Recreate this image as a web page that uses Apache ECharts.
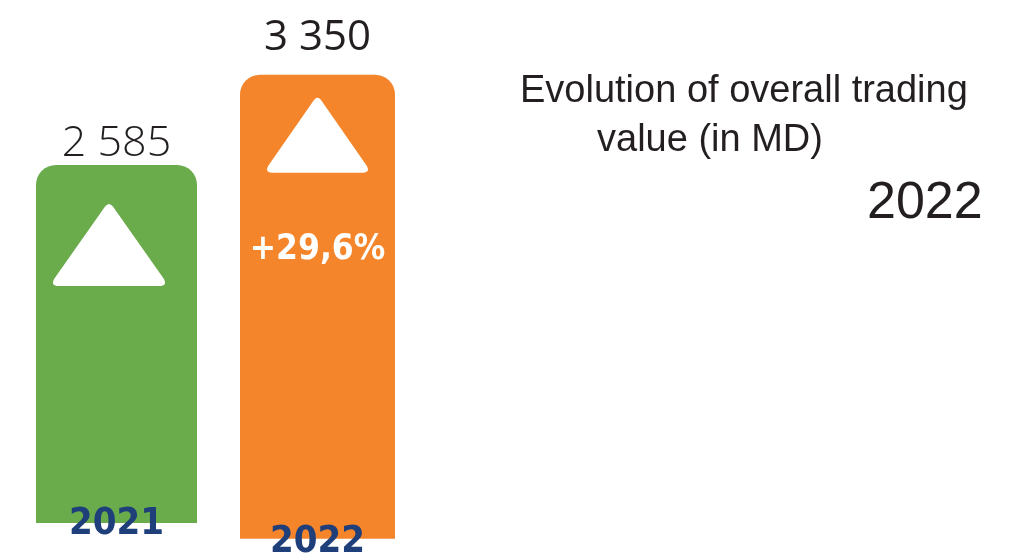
<!DOCTYPE html>
<html>
<head>
<meta charset="utf-8">
<script src="https://cdn.jsdelivr.net/npm/echarts@6/dist/echarts.min.js"></script>
<style>
html,body{margin:0;padding:0;background:#fff;}
#chart{width:1019px;height:556px;}
</style>
</head>
<body>
<div id="chart"></div>
<script>
// ---- data ----
var categories = ['2021', '2022'];
var values = [2585, 3350];
var valueLabels = ['2 585', '3 350'];
var growthLabel = '+29,6%';
var titleLines = ['Evolution of overall trading', 'value (in MD)'];
var titleYear = '2022';

var colors = ['#6aab4c', '#f5852a'];
var yearColor = '#1f3f7a';
var textColor = '#231f20';
var narrowBold = "'DejaVu Sans Condensed', sans-serif";
var triPath = 'path://M46.5,3 Q50,-1.5 53.5,3 L99,67.5 Q102.5,74 95,74 L5,74 Q-2.5,74 1,67.5 Z';

var chart = echarts.init(document.getElementById('chart'));

var grids = [
  {left: 36, width: 161, top: 52.1, bottom: 33, containLabel: false, outerBoundsMode: 'none'},
  {left: 240, width: 155, top: 67.8, bottom: 17.3, containLabel: false, outerBoundsMode: 'none'}
];
var labelMargins = [-18, -16];
var labelFonts = [
  {fontFamily: "'Open Sans', sans-serif", fontWeight: 300, fontSize: 43, distance: 0},
  {fontFamily: "'Open Sans', sans-serif", fontWeight: 400, fontSize: 42, distance: 16}
];
var triangles = [
  {size: [112, 82], offset: [-7.5, 80]},
  {size: [101, 75], offset: [0, 60.5]}
];

var xAxes = [], yAxes = [], series = [];
categories.forEach(function (cat, i) {
  xAxes.push({
    type: 'category', gridIndex: i, data: [cat], z: 10,
    axisLine: {show: false}, axisTick: {show: false},
    axisLabel: {
      margin: labelMargins[i], color: yearColor, fontFamily: narrowBold,
      fontWeight: 'bold', fontSize: 38
    }
  });
  yAxes.push({
    type: 'value', gridIndex: i, min: 0, max: 3400, show: false,
    splitLine: {show: false}
  });
  var mpData = [{
    coord: [cat, values[i]],
    symbol: triPath,
    symbolSize: triangles[i].size,
    symbolOffset: triangles[i].offset,
    symbolKeepAspect: false,
    itemStyle: {color: '#ffffff'},
    label: {show: false}
  }];
  if (i === 1) {
    mpData.push({
      coord: [cat, values[i]],
      symbol: 'rect',
      symbolSize: [1, 1],
      symbolOffset: [0, 175],
      itemStyle: {color: 'rgba(0,0,0,0)'},
      label: {
        show: true, position: 'inside', formatter: growthLabel,
        color: '#ffffff', fontFamily: narrowBold, fontWeight: 'bold', fontSize: 35
      }
    });
  }
  series.push({
    type: 'bar', xAxisIndex: i, yAxisIndex: i,
    barWidth: '100%',
    data: [values[i]],
    itemStyle: {color: colors[i], borderRadius: [20, 20, 0, 0]},
    label: {
      show: true, position: 'top', distance: labelFonts[i].distance,
      formatter: valueLabels[i], color: textColor,
      fontFamily: labelFonts[i].fontFamily, fontWeight: labelFonts[i].fontWeight,
      fontSize: labelFonts[i].fontSize
    },
    markPoint: {silent: true, animation: false, data: mpData},
    animation: false
  });
});

var titleFont = "'Liberation Sans', Arial, sans-serif";
chart.setOption({
  animation: false,
  title: [
    {text: titleLines[0], left: 520, top: 73, padding: 0,
     textStyle: {fontFamily: titleFont, fontSize: 38, fontWeight: 'normal', color: textColor}},
    {text: titleLines[1], left: 597, top: 122, padding: 0,
     textStyle: {fontFamily: titleFont, fontSize: 38, fontWeight: 'normal', color: textColor}},
    {text: titleYear, left: 867, top: 178, padding: 0,
     textStyle: {fontFamily: titleFont, fontSize: 52, fontWeight: 'normal', color: textColor}}
  ],
  grid: grids,
  xAxis: xAxes,
  yAxis: yAxes,
  series: series
});
</script>
</body>
</html>
